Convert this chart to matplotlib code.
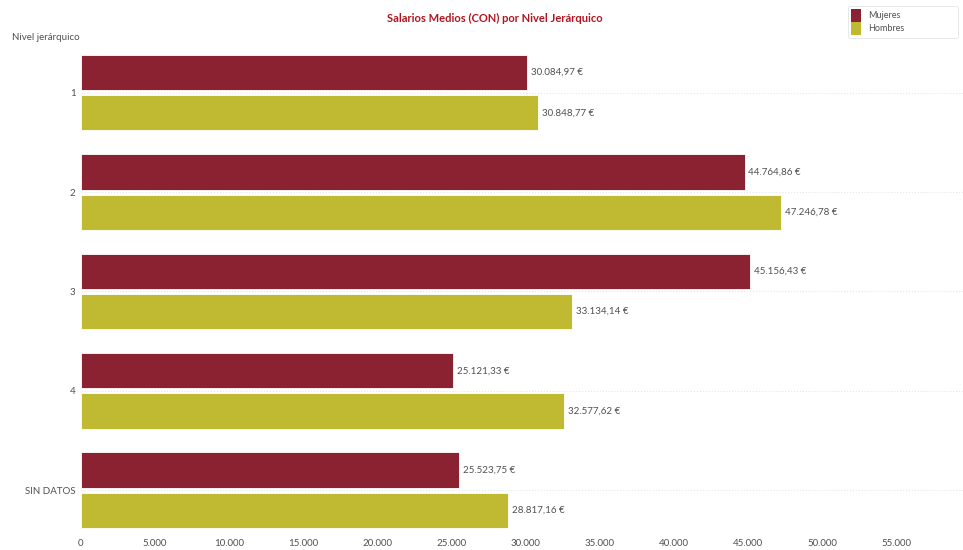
import matplotlib.pyplot as plt
import matplotlib.ticker as mticker
from matplotlib.patches import Patch

plt.rcParams['font.family'] = ['Lato', 'DejaVu Sans']

niveles = ['1', '2', '3', '4', 'SIN DATOS']
mujeres = [30084.97, 44764.86, 45156.43, 25121.33, 25523.75]
hombres = [30848.77, 47246.78, 33134.14, 32577.62, 28817.16]
x_ticks = list(range(0, 60000, 5000))

c_muj = '#8B2232'
c_hom = '#C0BA33'
txt = '#505050'


def euro(v):
    s = f'{v:,.2f}'.replace(',', 'X').replace('.', ',').replace('X', '.')
    return s + ' €'


fig = plt.figure(figsize=(9.63, 5.5), dpi=100)
ax = fig.add_axes([81 / 963, 17 / 550, 1 - 81 / 963, (550 - 45 - 17) / 550])

pos = list(range(len(niveles)))
h = 0.355
g = 0.025
ax.barh([p - g - h / 2 for p in pos], mujeres, height=h, color=c_muj, edgecolor='white', linewidth=0.6)
ax.barh([p + g + h / 2 for p in pos], hombres, height=h, color=c_hom, edgecolor='white', linewidth=0.6)

# etiquetas de valor
for p, m, w in zip(pos, mujeres, hombres):
    ax.text(m + 250, p - g - h / 2, euro(m), va='center', ha='left', fontsize=7, color=txt)
    ax.text(w + 250, p + g + h / 2, euro(w), va='center', ha='left', fontsize=7, color=txt)

ax.set_xlim(0, 59500)
ax.set_ylim(4.43, -0.48)
ax.set_yticks(pos)
ax.set_yticklabels(niveles)
ax.set_xticks(x_ticks)
ax.xaxis.set_major_formatter(mticker.FuncFormatter(lambda v, _: f'{int(v):,}'.replace(',', '.')))
ax.tick_params(axis='both', length=0, labelsize=7, colors=txt, pad=4)
ax.grid(axis='y', color='#e6e6e6', linestyle=':', linewidth=0.8)
ax.set_axisbelow(True)
for s in ax.spines.values():
    s.set_visible(False)

fig.text(12 / 963, 1 - 38 / 550, 'Nivel jerárquico', fontsize=7, color=txt, va='center', ha='left')
fig.text(495 / 963, 1 - 18 / 550, 'Salarios Medios (CON) por Nivel Jerárquico', fontsize=8,
         color='#B0141E', fontweight='bold', ha='center', va='center')

handles = [Patch(facecolor=c_muj, label='Mujeres'), Patch(facecolor=c_hom, label='Hombres')]
leg = fig.legend(handles=handles, loc='upper left', mode='expand',
                 bbox_to_anchor=(848 / 963, 1 - 38 / 550, 110 / 963, 32 / 550),
                 fontsize=6.5, frameon=True, handlelength=1.1, handleheight=1.8,
                 handletextpad=0.8, labelspacing=0.0, borderpad=0.35, borderaxespad=0)
leg.get_frame().set_edgecolor('#dddddd')
leg.get_frame().set_linewidth(0.6)
for t in leg.get_texts():
    t.set_color(txt)

fig.savefig('out.png', dpi=100)
